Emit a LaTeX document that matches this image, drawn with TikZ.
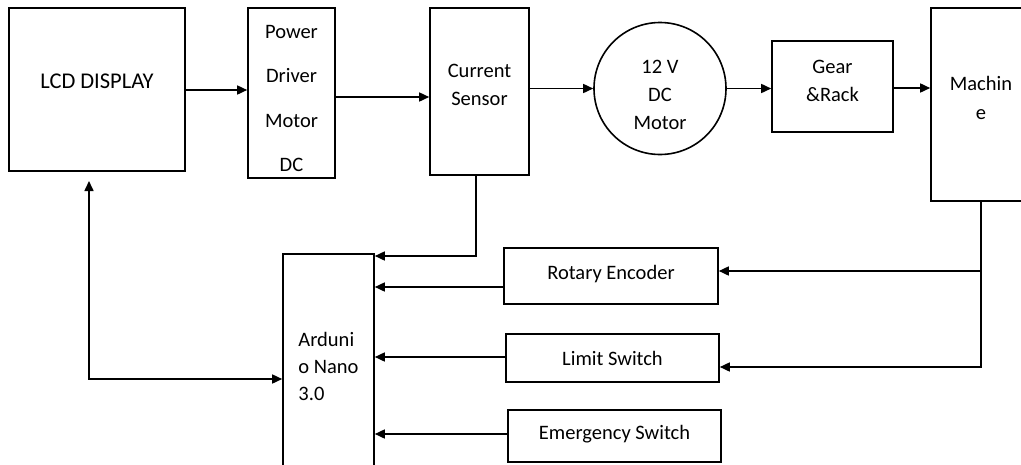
\documentclass[tikz,border=0pt]{standalone}
\usepackage{fontspec}
\setmainfont{Carlito}
\usetikzlibrary{arrows.meta}
\begin{document}
\begin{tikzpicture}[x=1pt,y=-1pt,
  box/.style={draw, line width=1.6pt, inner sep=0pt, rectangle},
  rnd/.style={draw, line width=1.6pt, inner sep=0pt, circle},
  txt/.style={font=\fontsize{20.5}{28}\selectfont, align=center, inner sep=0pt},
  arr/.style={line width=1.6pt, -{Triangle[length=10pt,width=9pt]}},
  darr/.style={line width=1.6pt, {Triangle[length=10pt,width=9pt]}-{Triangle[length=10pt,width=9pt]}},
  wire/.style={line width=1.6pt}]
\useasboundingbox (0,0) rectangle (1021,464);
\clip (0,0) rectangle (1021,464);

% blocks
\node[box, minimum width=176pt, minimum height=163pt,
      label={[txt, font=\fontsize{22.5}{28}\selectfont, yshift=8.5pt]center:LCD DISPLAY}] (lcd) at (97,89.5) {};
\node[box, minimum width=87pt, minimum height=170pt,
      label={[txt, font=\fontsize{20.5}{44.3}\selectfont, yshift=-5.5pt]center:{Power\\Driver\\Motor\\DC}}] (pdm) at (291.5,93) {};
\node[box, minimum width=99pt, minimum height=167pt,
      label={[txt, yshift=6.5pt]center:{Current\\Sensor}}] (cs) at (479.5,91.5) {};
\node[rnd, minimum size=132pt,
      label={[txt, yshift=-6pt]center:{12 V\\DC\\Motor}}] (motor) at (660,88.5) {};
\node[box, minimum width=121pt, minimum height=91pt,
      label={[txt, yshift=6pt]center:{Gear\\\&Rack}}] (gear) at (832.5,86.5) {};
\node[box, minimum width=100pt, minimum height=193pt,
      label={[txt, font=\fontsize{20.5}{29}\selectfont, yshift=7pt]center:{Machin\\e}}] (mach) at (981,104.5) {};
\node[box, minimum width=91pt, minimum height=216pt,
      label={[txt, align=left, font=\fontsize{20.5}{27}\selectfont, yshift=-4pt]center:{Arduni\\o Nano\\3.0}}] (ard) at (328.5,362) {};
\node[box, minimum width=214pt, minimum height=56pt,
      label={[txt, yshift=2pt]center:Rotary Encoder}] (rot) at (611,276) {};
\node[box, minimum width=213pt, minimum height=48pt,
      label={[txt, yshift=0pt]center:Limit Switch}] (lim) at (612.5,358) {};
\node[box, minimum width=213pt, minimum height=52pt,
      label={[txt, yshift=1.5pt]center:Emergency Switch}] (emg) at (614.5,436) {};

% top chain
\draw[arr] (lcd.east |- 0,90) -- (pdm.west |- 0,90);
\draw[arr] (pdm.east |- 0,97) -- (cs.west |- 0,97);
\draw[arr] (cs.east |- motor.west) -- (motor.west);
\draw[arr] (motor.east) -- (gear.west |- motor.east);
\draw[arr] (gear.east |- 0,88) -- (mach.west |- 0,88);

% feedback between LCD and Arduino
\coordinate (lcdin) at (89,181);
\coordinate (fb) at (89,379);
\draw[darr] (lcdin) -- (fb) -- (ard.west |- fb);

% current sensor to Arduino
\draw[arr] (cs.south -| 476,0) |- (ard.east |- 0,256);

% sensors to Arduino
\draw[arr] (rot.west |- 0,287) -- (ard.east |- 0,287);
\draw[arr] (lim.west |- 0,357) -- (ard.east |- 0,357);
\draw[arr] (emg.west |- 0,434) -- (ard.east |- 0,434);

% machine feedback
\draw[arr] (mach.south) |- (lim.east |- 0,367);
\draw[arr] (mach.south |- 0,271) -- (rot.east |- 0,271);
\end{tikzpicture}
\end{document}
